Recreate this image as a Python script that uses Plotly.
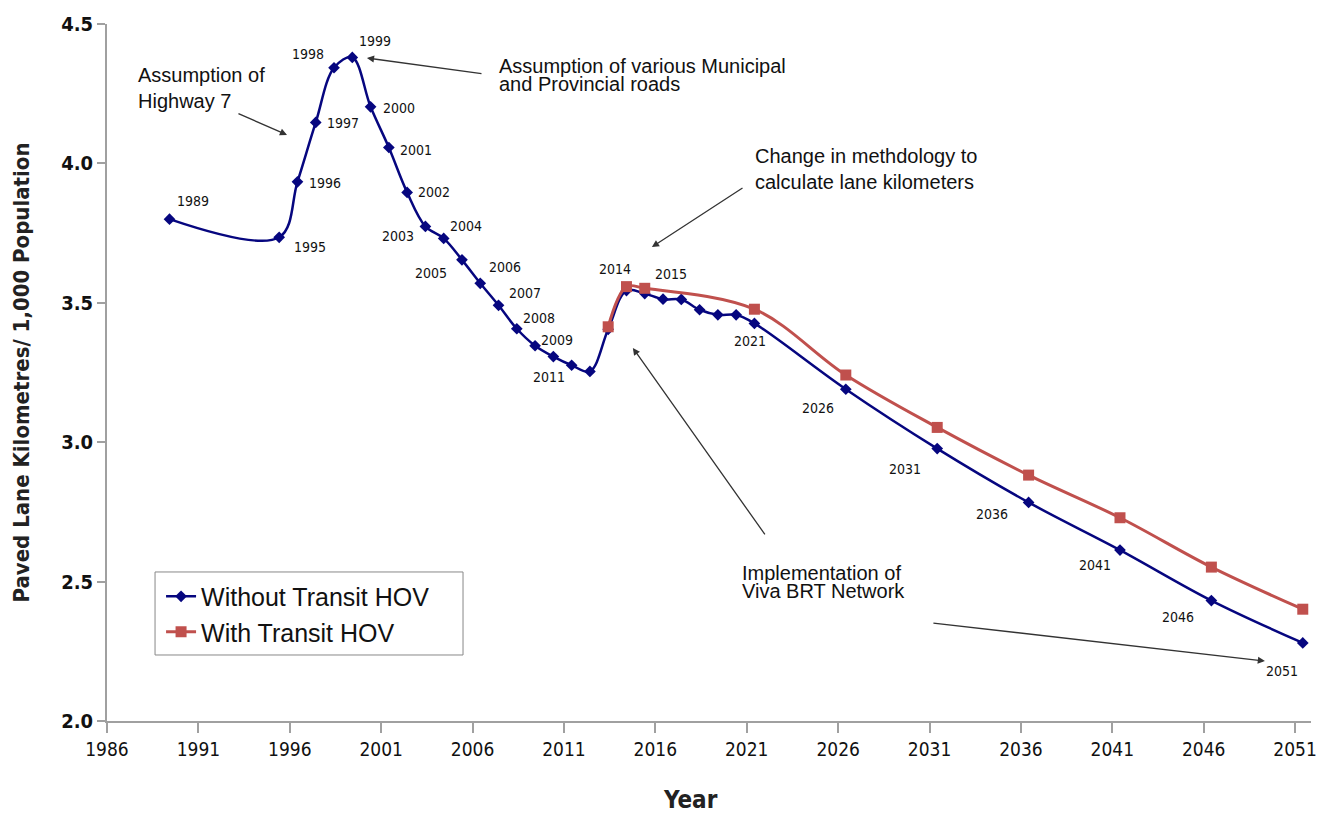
import plotly.graph_objects as go

# ---------------- data ----------------
years_without = [1989, 1995, 1996, 1997, 1998, 1999, 2000, 2001, 2002, 2003, 2004,
                 2005, 2006, 2007, 2008, 2009, 2010, 2011, 2012, 2013, 2014, 2015,
                 2016, 2017, 2018, 2019, 2020, 2021, 2026, 2031, 2036, 2041, 2046, 2051]
values_without = [3.80, 3.735, 3.934, 4.147, 4.343, 4.380, 4.203, 4.057, 3.896, 3.774, 3.731,
                  3.654, 3.570, 3.491, 3.407, 3.346, 3.307, 3.276, 3.254, 3.405, 3.544, 3.533,
                  3.513, 3.512, 3.475, 3.457, 3.457, 3.426, 3.190, 2.977, 2.784, 2.613, 2.432, 2.280]

years_with = [2013, 2014, 2015, 2021, 2026, 2031, 2036, 2041, 2046, 2051]
values_with = [3.414, 3.558, 3.552, 3.477, 3.241, 3.053, 2.882, 2.729, 2.552, 2.401]

tick_years = [1986, 1991, 1996, 2001, 2006, 2011, 2016, 2021, 2026, 2031, 2036, 2041, 2046, 2051]
y_ticks = [2.0, 2.5, 3.0, 3.5, 4.0, 4.5]

labelled_years = [1989, 1995, 1996, 1997, 1998, 1999, 2000, 2001, 2002, 2003, 2004, 2005,
                  2006, 2007, 2008, 2009, 2011, 2014, 2015, 2021, 2026, 2031, 2036, 2041,
                  2046, 2051]
# label offsets in pixels (dx right, dy down) relative to the point
label_offsets = {
    1989: (23, -18), 1995: (31, 10), 1996: (28, 1), 1997: (27, 1), 1998: (-26, -14),
    1999: (23, -16), 2000: (28, 1), 2001: (27, 2), 2002: (27, 0), 2003: (-27, 10),
    2004: (22, -12), 2005: (-31, 13), 2006: (25, -16), 2007: (26, -12), 2008: (22, -11),
    2009: (22, -6), 2011: (-23, 12), 2014: (-11, -22), 2015: (26, -20), 2021: (-4, 18),
    2026: (-28, 19), 2031: (-32, 20), 2036: (-37, 12), 2041: (-25, 15), 2046: (-33, 16),
    2051: (-21, 28),
}

BLUE = "#06067f"
RED = "#c0504d"
COND = "DejaVu Sans Condensed, Liberation Sans Narrow, Arial Narrow, sans-serif"
ARIAL = "Liberation Sans, Arial, sans-serif"

TICK_SHIFT = 0.42  # points sit slightly right of the year ticks in the original

fig = go.Figure()
fig.add_trace(go.Scatter(
    x=years_without, y=values_without, mode="lines+markers",
    name="Without Transit HOV",
    line=dict(color=BLUE, width=2.5, shape="spline", smoothing=1.0),
    marker=dict(symbol="diamond", size=9, color=BLUE),
))
fig.add_trace(go.Scatter(
    x=years_with, y=values_with, mode="lines+markers",
    name="With Transit HOV",
    line=dict(color=RED, width=3, shape="spline", smoothing=1.0),
    marker=dict(symbol="square", size=11, color=RED),
))

annotations = []
val_map = dict(zip(years_without, values_without))
for yr in labelled_years:
    dx, dy = label_offsets[yr]
    annotations.append(dict(
        x=yr, y=val_map[yr], xref="x", yref="y", text=str(yr), showarrow=False,
        xshift=dx, yshift=-dy, font=dict(family=COND, size=14, color="#111"),
    ))

# text callouts (one annotation per line)
callout_lines = [
    ("Assumption of", 1987.17, 4.317),
    ("Highway 7", 1987.17, 4.224),
    ("Assumption of various Municipal", 2006.91, 4.348),
    ("and Provincial roads", 2006.91, 4.285),
    ("Change in methdology to", 2020.92, 4.026),
    ("calculate lane kilometers", 2020.92, 3.933),
    ("Implementation of", 2020.21, 2.531),
    ("Viva BRT Network", 2020.21, 2.466),
]
for txt, x, y in callout_lines:
    annotations.append(dict(
        x=x, y=y, xref="x", yref="y", text=txt, showarrow=False,
        xanchor="left", yanchor="middle", font=dict(family=ARIAL, size=20, color="#111"),
    ))

# arrows: (head x, head y, tail x, tail y)
arrows = [
    (1995.43, 4.102, 1992.69, 4.181),
    (1999.80, 4.378, 2006.15, 4.321),
    (2015.39, 3.700, 2020.43, 3.915),
    (2014.35, 3.338, 2021.63, 2.664),
    (2048.93, 2.215, 2030.71, 2.352),
]
for hx, hy, tx, ty in arrows:
    annotations.append(dict(
        x=hx, y=hy, ax=tx, ay=ty, xref="x", yref="y", axref="x", ayref="y",
        text="", showarrow=True, arrowhead=2, arrowsize=1.1, arrowwidth=1.3,
        arrowcolor="#333", standoff=0, startstandoff=0,
    ))

annotations.append(dict(
    x=(690 - 107) / 1204, y=-0.113, xref="paper", yref="paper", text="<b>Year</b>",
    showarrow=False, xanchor="center", yanchor="middle",
    font=dict(family=COND, size=24, color="#222"),
))

# legend frame (wider than plotly's auto box, as in the original)
legend_frame = dict(
    type="rect", xref="paper", yref="paper",
    x0=0.0399, x1=0.2957, y0=0.0947, y1=0.2138,
    line=dict(color="#888", width=1), fillcolor="white", layer="above",
)

# page body has an 8px default margin, so the figure is 8px smaller than the window
fig.update_layout(
    width=1329, height=806,
    margin=dict(l=99, r=26, t=16, b=93),
    paper_bgcolor="white", plot_bgcolor="white",
    annotations=annotations,
    shapes=[legend_frame],
    showlegend=True,
    legend=dict(
        x=0.0449, y=0.2115, xanchor="left", yanchor="top",
        bgcolor="rgba(0,0,0,0)", borderwidth=0,
        font=dict(family=ARIAL, size=25, color="#111"),
        itemwidth=30,
    ),
)

fig.update_xaxes(
    range=[1986 - TICK_SHIFT, 2051.45],
    tickvals=[t - TICK_SHIFT for t in tick_years],
    ticktext=[str(t) for t in tick_years],
    showgrid=False, zeroline=False, automargin=False,
    showline=True, linecolor="#a0a0a0", linewidth=2,
    ticks="outside", ticklen=10, tickcolor="#a0a0a0", tickwidth=1.5,
    tickfont=dict(family=COND, size=19, color="#111"),
)
fig.update_yaxes(
    range=[2.0, 4.5],
    tickvals=y_ticks,
    ticktext=[f"{v:.1f}" for v in y_ticks],
    showgrid=False, zeroline=False, automargin=False,
    showline=True, linecolor="#a0a0a0", linewidth=2,
    ticks="outside", ticklen=8, tickcolor="#a0a0a0", tickwidth=1.5,
    tickfont=dict(family=COND, size=20, color="#111", weight="bold"),
    title=dict(text="<b>Paved Lane Kilometres/ 1,000 Population</b>",
               font=dict(family=COND, size=22, color="#222"), standoff=25),
)

fig.write_html("out.html")
